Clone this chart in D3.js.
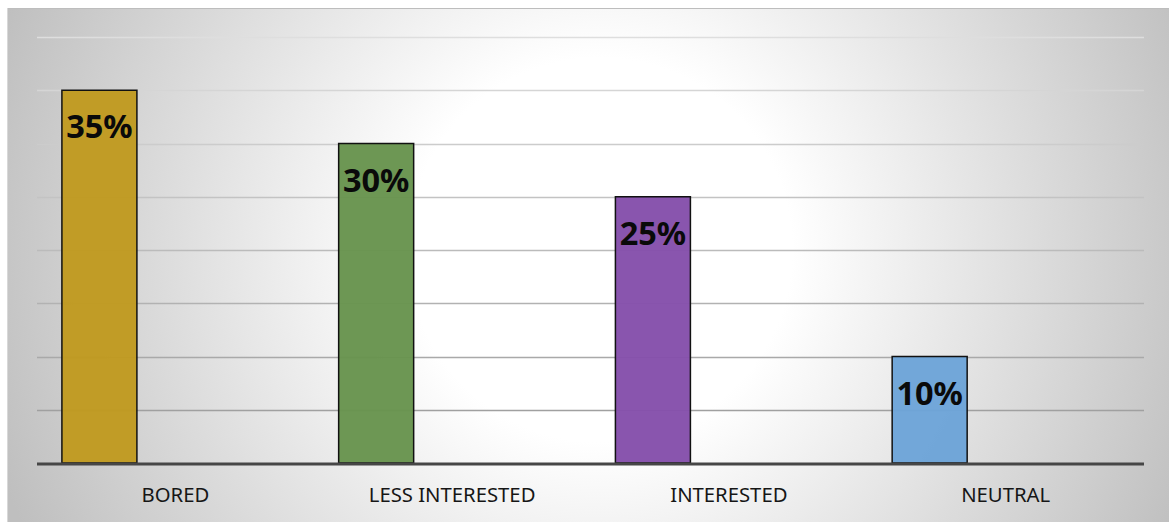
<!DOCTYPE html>
<html>
<head>
<meta charset="utf-8">
<script src="https://cdn.jsdelivr.net/npm/d3@7"></script>
<style>
  html, body { margin: 0; padding: 0; background: #ffffff; }
  svg { display: block; }
</style>
</head>
<body>
<svg id="chart" width="1169" height="522"></svg>
<script>
// Survey responses, share of students per attitude
const categories = ["BORED", "LESS INTERESTED", "INTERESTED", "NEUTRAL"];
const values = [35, 30, 25, 10];
const barColors = ["#C09A20", "#68944E", "#8550AB", "#6DA4D8"];
const gridTicks = [5, 10, 15, 20, 25, 30, 35, 40];

const W = 1169, H = 522;
const svg = d3.select("#chart");

// Chart area with a soft radial fill
const defs = svg.append("defs");
const rg = defs.append("radialGradient")
  .attr("id", "bgGrad")
  .attr("gradientUnits", "userSpaceOnUse")
  .attr("cx", 600).attr("cy", 250).attr("r", 640);
rg.append("stop").attr("offset", 0).attr("stop-color", "#ffffff");
rg.append("stop").attr("offset", 0.3).attr("stop-color", "#ffffff");
rg.append("stop").attr("offset", 1).attr("stop-color", "#bfbfbf");

svg.append("rect")
  .attr("x", 7).attr("y", 8).attr("width", W - 7).attr("height", H - 8)
  .attr("fill", "url(#bgGrad)");
svg.append("line")
  .attr("x1", 7).attr("x2", W).attr("y1", 8.5).attr("y2", 8.5)
  .attr("stroke", "#bdbdbd").attr("stroke-width", 1);
svg.append("line")
  .attr("x1", 7.5).attr("x2", 7.5).attr("y1", 8).attr("y2", H)
  .attr("stroke", "#d8d8d8").attr("stroke-width", 1);

const plot = { left: 37, right: 1144, top: 37, bottom: 463 };

const x = d3.scaleBand()
  .domain(categories)
  .range([plot.left, plot.right])
  .paddingInner(0).paddingOuter(0);

const y = d3.scaleLinear()
  .domain([0, 40])
  .range([plot.bottom, plot.top]);

// Horizontal gridlines, lighter toward the top
const gridColor = d3.scaleLinear().domain([5, 40]).range(["#a0a0a0", "#dedede"]);
svg.append("g")
  .selectAll("line")
  .data(gridTicks)
  .join("line")
  .attr("x1", plot.left).attr("x2", plot.right)
  .attr("y1", d => Math.round(y(d)) + 0.5)
  .attr("y2", d => Math.round(y(d)) + 0.5)
  .attr("stroke", d => gridColor(d))
  .attr("stroke-width", 1.5);

// Bars sit toward the left of each category slot
const bw = x.bandwidth();
const barOffset = 0.09 * bw;
const barWidth = 0.271 * bw;

const data = categories.map((c, i) => ({ c, v: values[i], color: barColors[i] }));

svg.append("g")
  .selectAll("rect")
  .data(data)
  .join("rect")
  .attr("x", d => x(d.c) + barOffset)
  .attr("y", d => y(d.v))
  .attr("width", barWidth)
  .attr("height", d => y(0) - y(d.v))
  .attr("fill", d => d.color)
  .attr("fill-opacity", 0.97)
  .attr("stroke", "#111111")
  .attr("stroke-width", 1.5);

// Value labels inside the top of each bar
svg.append("g")
  .selectAll("text")
  .data(data)
  .join("text")
  .attr("x", d => x(d.c) + barOffset + barWidth / 2)
  .attr("y", d => y(d.v) + 48)
  .attr("text-anchor", "middle")
  .attr("font-family", "'Noto Sans', 'Open Sans', sans-serif")
  .attr("font-weight", "bold")
  .attr("font-size", 32.5)
  .attr("fill", "#0a0a0a")
  .text(d => d.v + "%");

// Baseline axis
svg.append("line")
  .attr("x1", plot.left).attr("x2", plot.right)
  .attr("y1", y(0) + 1).attr("y2", y(0) + 1)
  .attr("stroke", "#464646")
  .attr("stroke-width", 3);

// Category labels
svg.append("g")
  .selectAll("text")
  .data(categories)
  .join("text")
  .attr("x", d => x(d) + bw / 2)
  .attr("y", 501.5)
  .attr("text-anchor", "middle")
  .attr("font-family", "'Noto Sans', 'Open Sans', sans-serif")
  .attr("font-size", 20.3)
  .attr("fill", "#161616")
  .text(d => d);
</script>
</body>
</html>
